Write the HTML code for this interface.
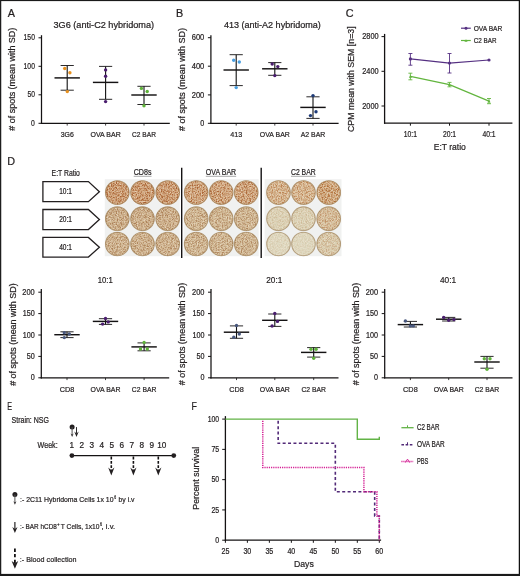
<!DOCTYPE html>
<html><head><meta charset="utf-8"><style>
html,body{margin:0;padding:0;background:#fff;width:520px;height:576px;overflow:hidden}
body{position:relative;font-family:"Liberation Sans", sans-serif}
</style></head><body>
<svg width="520" height="576" viewBox="0 0 520 576" style="position:absolute;left:0;top:0;will-change:transform" font-family='"Liberation Sans", sans-serif'>
<rect x="0" y="0" width="520" height="576" fill="#fff"/>
<text x="7.8" y="16.6" font-size="10.8" text-anchor="start" fill="#231f20" stroke="#231f20" stroke-width="0.22" >A</text>
<text x="176" y="17" font-size="10.8" text-anchor="start" fill="#231f20" stroke="#231f20" stroke-width="0.22" >B</text>
<text x="345.8" y="16.7" font-size="10.8" text-anchor="start" fill="#231f20" stroke="#231f20" stroke-width="0.22" >C</text>
<text x="7.2" y="165.1" font-size="10.8" text-anchor="start" fill="#231f20" stroke="#231f20" stroke-width="0.22" >D</text>
<text x="7.3" y="409.8" font-size="10.8" text-anchor="start" fill="#231f20" stroke="#231f20" stroke-width="0.22" textLength="4.8" lengthAdjust="spacingAndGlyphs" >E</text>
<text x="191.6" y="410.1" font-size="10.8" text-anchor="start" fill="#231f20" stroke="#231f20" stroke-width="0.22" textLength="5.4" lengthAdjust="spacingAndGlyphs" >F</text>
<text x="53.5" y="28.2" font-size="9.07" text-anchor="start" fill="#231f20" stroke="#231f20" stroke-width="0.22" textLength="100.6" lengthAdjust="spacingAndGlyphs" >3G6 (anti-C2 hybridoma)</text>
<line x1="41.5" y1="35.2" x2="41.5" y2="124.0" stroke="#141213" stroke-width="1.25" />
<line x1="40.9" y1="123.4" x2="169.8" y2="123.4" stroke="#141213" stroke-width="1.25" />
<line x1="38.5" y1="37.8" x2="41.5" y2="37.8" stroke="#141213" stroke-width="1.0" />
<text x="34.9" y="40.4" font-size="8.21" text-anchor="end" fill="#231f20" stroke="#231f20" stroke-width="0.22" textLength="11.3" lengthAdjust="spacingAndGlyphs" >150</text>
<line x1="38.5" y1="66.3" x2="41.5" y2="66.3" stroke="#141213" stroke-width="1.0" />
<text x="34.9" y="68.89999999999999" font-size="8.21" text-anchor="end" fill="#231f20" stroke="#231f20" stroke-width="0.22" textLength="11.3" lengthAdjust="spacingAndGlyphs" >100</text>
<line x1="38.5" y1="94.8" x2="41.5" y2="94.8" stroke="#141213" stroke-width="1.0" />
<text x="34.9" y="97.39999999999999" font-size="8.21" text-anchor="end" fill="#231f20" stroke="#231f20" stroke-width="0.22" textLength="7.5" lengthAdjust="spacingAndGlyphs" >50</text>
<line x1="38.5" y1="123.3" x2="41.5" y2="123.3" stroke="#141213" stroke-width="1.0" />
<text x="34.9" y="125.89999999999999" font-size="8.21" text-anchor="end" fill="#231f20" stroke="#231f20" stroke-width="0.22" textLength="3.8" lengthAdjust="spacingAndGlyphs" >0</text>
<line x1="67.2" y1="123.4" x2="67.2" y2="125.60000000000001" stroke="#141213" stroke-width="0.8" />
<text x="67.2" y="137.1" font-size="8.1" text-anchor="middle" fill="#231f20" stroke="#231f20" stroke-width="0.22" textLength="13.1" lengthAdjust="spacingAndGlyphs" >3G6</text>
<line x1="67.2" y1="65.5" x2="67.2" y2="90.2" stroke="#111" stroke-width="1.1" />
<line x1="54.5" y1="77.9" x2="79.9" y2="77.9" stroke="#141213" stroke-width="1.45" />
<line x1="60.6" y1="65.5" x2="73.8" y2="65.5" stroke="#141213" stroke-width="0.9" />
<line x1="60.6" y1="90.2" x2="73.8" y2="90.2" stroke="#141213" stroke-width="0.9" />
<circle cx="64.7" cy="68.5" r="1.7" fill="#e8911e"/>
<circle cx="69.9" cy="72.8" r="1.7" fill="#e8911e"/>
<circle cx="67.3" cy="91.6" r="1.7" fill="#e8911e"/>
<line x1="105.6" y1="123.4" x2="105.6" y2="125.60000000000001" stroke="#141213" stroke-width="0.8" />
<text x="105.6" y="137.1" font-size="8.1" text-anchor="middle" fill="#231f20" stroke="#231f20" stroke-width="0.22" textLength="30.3" lengthAdjust="spacingAndGlyphs" >OVA BAR</text>
<line x1="105.6" y1="66.4" x2="105.6" y2="99.3" stroke="#111" stroke-width="1.1" />
<line x1="92.89999999999999" y1="82.4" x2="118.3" y2="82.4" stroke="#141213" stroke-width="1.45" />
<line x1="99.0" y1="66.4" x2="112.19999999999999" y2="66.4" stroke="#141213" stroke-width="0.9" />
<line x1="99.0" y1="99.3" x2="112.19999999999999" y2="99.3" stroke="#141213" stroke-width="0.9" />
<circle cx="105.6" cy="69.9" r="1.7" fill="#4a1d6e"/>
<circle cx="105.6" cy="76.3" r="1.7" fill="#4a1d6e"/>
<circle cx="105.6" cy="101.6" r="1.7" fill="#4a1d6e"/>
<line x1="144.0" y1="123.4" x2="144.0" y2="125.60000000000001" stroke="#141213" stroke-width="0.8" />
<text x="144.0" y="137.1" font-size="8.1" text-anchor="middle" fill="#231f20" stroke="#231f20" stroke-width="0.22" textLength="23.9" lengthAdjust="spacingAndGlyphs" >C2 BAR</text>
<line x1="144.0" y1="86.3" x2="144.0" y2="104.5" stroke="#111" stroke-width="1.1" />
<line x1="131.3" y1="95.0" x2="156.7" y2="95.0" stroke="#141213" stroke-width="1.45" />
<line x1="137.4" y1="86.3" x2="150.6" y2="86.3" stroke="#141213" stroke-width="0.9" />
<line x1="137.4" y1="104.5" x2="150.6" y2="104.5" stroke="#141213" stroke-width="0.9" />
<circle cx="141.4" cy="88.4" r="1.7" fill="#5fb33a"/>
<circle cx="147.2" cy="91.5" r="1.7" fill="#5fb33a"/>
<circle cx="144" cy="105.7" r="1.7" fill="#5fb33a"/>
<text transform="translate(15.1,79.2) rotate(-90)" x="0" y="0" font-size="8.6" text-anchor="middle" fill="#231f20" stroke="#231f20" stroke-width="0.22" textLength="103" lengthAdjust="spacingAndGlyphs"># of spots (mean with SD)</text>
<text x="223.9" y="28.1" font-size="9.07" text-anchor="start" fill="#231f20" stroke="#231f20" stroke-width="0.22" textLength="96.9" lengthAdjust="spacingAndGlyphs" >413 (anti-A2 hybridoma)</text>
<line x1="210.9" y1="35.3" x2="210.9" y2="124.0" stroke="#141213" stroke-width="1.25" />
<line x1="210.3" y1="123.4" x2="338.6" y2="123.4" stroke="#141213" stroke-width="1.25" />
<line x1="207.9" y1="37.7" x2="210.9" y2="37.7" stroke="#141213" stroke-width="1.0" />
<text x="204.3" y="40.300000000000004" font-size="8.21" text-anchor="end" fill="#231f20" stroke="#231f20" stroke-width="0.22" textLength="12.6" lengthAdjust="spacingAndGlyphs" >600</text>
<line x1="207.9" y1="66.2" x2="210.9" y2="66.2" stroke="#141213" stroke-width="1.0" />
<text x="204.3" y="68.8" font-size="8.21" text-anchor="end" fill="#231f20" stroke="#231f20" stroke-width="0.22" textLength="12.6" lengthAdjust="spacingAndGlyphs" >400</text>
<line x1="207.9" y1="94.9" x2="210.9" y2="94.9" stroke="#141213" stroke-width="1.0" />
<text x="204.3" y="97.5" font-size="8.21" text-anchor="end" fill="#231f20" stroke="#231f20" stroke-width="0.22" textLength="12.6" lengthAdjust="spacingAndGlyphs" >200</text>
<line x1="207.9" y1="123.3" x2="210.9" y2="123.3" stroke="#141213" stroke-width="1.0" />
<text x="204.3" y="125.89999999999999" font-size="8.21" text-anchor="end" fill="#231f20" stroke="#231f20" stroke-width="0.22" textLength="4.0" lengthAdjust="spacingAndGlyphs" >0</text>
<line x1="236.2" y1="123.4" x2="236.2" y2="125.60000000000001" stroke="#141213" stroke-width="0.8" />
<text x="236.2" y="137.1" font-size="8.1" text-anchor="middle" fill="#231f20" stroke="#231f20" stroke-width="0.22" textLength="12" lengthAdjust="spacingAndGlyphs" >413</text>
<line x1="236.2" y1="54.7" x2="236.2" y2="85.6" stroke="#111" stroke-width="1.1" />
<line x1="223.5" y1="70.0" x2="248.89999999999998" y2="70.0" stroke="#141213" stroke-width="1.45" />
<line x1="229.6" y1="54.7" x2="242.79999999999998" y2="54.7" stroke="#141213" stroke-width="0.9" />
<line x1="229.6" y1="85.6" x2="242.79999999999998" y2="85.6" stroke="#141213" stroke-width="0.9" />
<circle cx="233.7" cy="60.3" r="1.7" fill="#4a9fe0"/>
<circle cx="239.3" cy="62" r="1.7" fill="#4a9fe0"/>
<circle cx="236.2" cy="87.6" r="1.7" fill="#4a9fe0"/>
<line x1="274.8" y1="123.4" x2="274.8" y2="125.60000000000001" stroke="#141213" stroke-width="0.8" />
<text x="274.8" y="137.1" font-size="8.1" text-anchor="middle" fill="#231f20" stroke="#231f20" stroke-width="0.22" textLength="30" lengthAdjust="spacingAndGlyphs" >OVA BAR</text>
<line x1="274.8" y1="62.6" x2="274.8" y2="75.3" stroke="#111" stroke-width="1.1" />
<line x1="262.1" y1="68.8" x2="287.5" y2="68.8" stroke="#141213" stroke-width="1.45" />
<line x1="268.2" y1="62.6" x2="281.40000000000003" y2="62.6" stroke="#141213" stroke-width="0.9" />
<line x1="268.2" y1="75.3" x2="281.40000000000003" y2="75.3" stroke="#141213" stroke-width="0.9" />
<circle cx="272.2" cy="64" r="1.7" fill="#4a1d6e"/>
<circle cx="277.8" cy="66.6" r="1.7" fill="#4a1d6e"/>
<circle cx="274.8" cy="75.6" r="1.7" fill="#4a1d6e"/>
<line x1="313.0" y1="123.4" x2="313.0" y2="125.60000000000001" stroke="#141213" stroke-width="0.8" />
<text x="313.0" y="137.1" font-size="8.1" text-anchor="middle" fill="#231f20" stroke="#231f20" stroke-width="0.22" textLength="24.6" lengthAdjust="spacingAndGlyphs" >A2 BAR</text>
<line x1="313.0" y1="96.8" x2="313.0" y2="118.4" stroke="#111" stroke-width="1.1" />
<line x1="300.3" y1="107.4" x2="325.7" y2="107.4" stroke="#141213" stroke-width="1.45" />
<line x1="306.4" y1="96.8" x2="319.6" y2="96.8" stroke="#141213" stroke-width="0.9" />
<line x1="306.4" y1="118.4" x2="319.6" y2="118.4" stroke="#141213" stroke-width="0.9" />
<circle cx="313" cy="95.6" r="1.7" fill="#1d3a78"/>
<circle cx="316" cy="111.8" r="1.7" fill="#1d3a78"/>
<circle cx="310.5" cy="115.6" r="1.7" fill="#1d3a78"/>
<text transform="translate(185.0,79.5) rotate(-90)" x="0" y="0" font-size="8.6" text-anchor="middle" fill="#231f20" stroke="#231f20" stroke-width="0.22" textLength="103" lengthAdjust="spacingAndGlyphs"># of spots (mean with SD)</text>
<line x1="384.6" y1="33.9" x2="384.6" y2="123.8" stroke="#141213" stroke-width="1.3" />
<line x1="384.0" y1="123.2" x2="512.4" y2="123.2" stroke="#141213" stroke-width="1.3" />
<line x1="381.5" y1="36.6" x2="384.6" y2="36.6" stroke="#141213" stroke-width="1.0" />
<text x="378.6" y="39.2" font-size="8.42" text-anchor="end" fill="#231f20" stroke="#231f20" stroke-width="0.22" textLength="16.4" lengthAdjust="spacingAndGlyphs" >2800</text>
<line x1="381.5" y1="71.3" x2="384.6" y2="71.3" stroke="#141213" stroke-width="1.0" />
<text x="378.6" y="73.89999999999999" font-size="8.42" text-anchor="end" fill="#231f20" stroke="#231f20" stroke-width="0.22" textLength="16.4" lengthAdjust="spacingAndGlyphs" >2400</text>
<line x1="381.5" y1="106.0" x2="384.6" y2="106.0" stroke="#141213" stroke-width="1.0" />
<text x="378.6" y="108.6" font-size="8.42" text-anchor="end" fill="#231f20" stroke="#231f20" stroke-width="0.22" textLength="16.4" lengthAdjust="spacingAndGlyphs" >2000</text>
<line x1="410.4" y1="123.2" x2="410.4" y2="125.7" stroke="#141213" stroke-width="1.0" />
<text x="410.4" y="136.9" font-size="8.21" text-anchor="middle" fill="#231f20" stroke="#231f20" stroke-width="0.22" textLength="13.2" lengthAdjust="spacingAndGlyphs" >10:1</text>
<line x1="449.5" y1="123.2" x2="449.5" y2="125.7" stroke="#141213" stroke-width="1.0" />
<text x="449.5" y="136.9" font-size="8.21" text-anchor="middle" fill="#231f20" stroke="#231f20" stroke-width="0.22" textLength="13.2" lengthAdjust="spacingAndGlyphs" >20:1</text>
<line x1="489.0" y1="123.2" x2="489.0" y2="125.7" stroke="#141213" stroke-width="1.0" />
<text x="489.0" y="136.9" font-size="8.21" text-anchor="middle" fill="#231f20" stroke="#231f20" stroke-width="0.22" textLength="13.2" lengthAdjust="spacingAndGlyphs" >40:1</text>
<text x="449.8" y="149.9" font-size="9.4" text-anchor="middle" fill="#231f20" stroke="#231f20" stroke-width="0.22" textLength="32.2" lengthAdjust="spacingAndGlyphs" >E:T ratio</text>
<text transform="translate(353.6,79.2) rotate(-90)" font-size="8.8" text-anchor="middle" fill="#231f20" stroke="#231f20" stroke-width="0.22" textLength="105.6" lengthAdjust="spacingAndGlyphs">CPM mean with SEM [n=3]</text>
<polyline points="410.4,58.9 449.5,63.1 489,60" fill="none" stroke="#553082" stroke-width="1.2"/>
<polyline points="410.4,76.4 449.5,84.7 489,101.1" fill="none" stroke="#62b53e" stroke-width="1.2"/>
<line x1="410.4" y1="53.5" x2="410.4" y2="65.2" stroke="#553082" stroke-width="0.9" />
<line x1="408.4" y1="53.5" x2="412.4" y2="53.5" stroke="#553082" stroke-width="0.9" />
<line x1="408.4" y1="65.2" x2="412.4" y2="65.2" stroke="#553082" stroke-width="0.9" />
<line x1="449.5" y1="53.5" x2="449.5" y2="73" stroke="#553082" stroke-width="0.9" />
<line x1="447.5" y1="53.5" x2="451.5" y2="53.5" stroke="#553082" stroke-width="0.9" />
<line x1="447.5" y1="73" x2="451.5" y2="73" stroke="#553082" stroke-width="0.9" />
<circle cx="410.4" cy="58.9" r="1.6" fill="#553082"/>
<circle cx="449.5" cy="63.1" r="1.6" fill="#553082"/>
<circle cx="489" cy="60" r="1.6" fill="#553082"/>
<line x1="410.4" y1="73.2" x2="410.4" y2="79.8" stroke="#62b53e" stroke-width="0.9" />
<line x1="408.4" y1="73.2" x2="412.4" y2="73.2" stroke="#62b53e" stroke-width="0.9" />
<line x1="408.4" y1="79.8" x2="412.4" y2="79.8" stroke="#62b53e" stroke-width="0.9" />
<line x1="449.5" y1="82.4" x2="449.5" y2="86.8" stroke="#62b53e" stroke-width="0.9" />
<line x1="447.5" y1="82.4" x2="451.5" y2="82.4" stroke="#62b53e" stroke-width="0.9" />
<line x1="447.5" y1="86.8" x2="451.5" y2="86.8" stroke="#62b53e" stroke-width="0.9" />
<line x1="489" y1="98.5" x2="489" y2="103.7" stroke="#62b53e" stroke-width="0.9" />
<line x1="487" y1="98.5" x2="491" y2="98.5" stroke="#62b53e" stroke-width="0.9" />
<line x1="487" y1="103.7" x2="491" y2="103.7" stroke="#62b53e" stroke-width="0.9" />
<path d="M408.79999999999995,77.7 L410.4,75.10000000000001 L412.0,77.7 Z" fill="#62b53e"/>
<path d="M447.9,86.0 L449.5,83.4 L451.1,86.0 Z" fill="#62b53e"/>
<path d="M487.4,102.39999999999999 L489,99.8 L490.6,102.39999999999999 Z" fill="#62b53e"/>
<line x1="461" y1="28.2" x2="470.8" y2="28.2" stroke="#553082" stroke-width="1.2" />
<circle cx="466" cy="28.2" r="1.5" fill="#553082"/>
<text x="473.7" y="30.7" font-size="7.56" text-anchor="start" fill="#231f20" stroke="#231f20" stroke-width="0.22" textLength="28.6" lengthAdjust="spacingAndGlyphs" >OVA BAR</text>
<line x1="461" y1="40.5" x2="470.8" y2="40.5" stroke="#62b53e" stroke-width="1.2" />
<path d="M464.4,41.7 L466,39.3 L467.6,41.7 Z" fill="#62b53e"/>
<text x="473.7" y="43.0" font-size="7.56" text-anchor="start" fill="#231f20" stroke="#231f20" stroke-width="0.22" textLength="22.8" lengthAdjust="spacingAndGlyphs" >C2 BAR</text>
<text x="51.6" y="175.7" font-size="8.75" text-anchor="start" fill="#231f20" stroke="#231f20" stroke-width="0.22" textLength="28.3" lengthAdjust="spacingAndGlyphs" >E:T Ratio</text>
<path d="M42.9,181.6 L88.4,181.6 L99.4,191.64999999999998 L88.4,201.7 L42.9,201.7 Z" fill="#fff" stroke="#231f20" stroke-width="1.3"/>
<text x="65.6" y="194.34999999999997" font-size="8.21" text-anchor="middle" fill="#231f20" stroke="#231f20" stroke-width="0.22" textLength="12.8" lengthAdjust="spacingAndGlyphs" >10:1</text>
<path d="M42.9,209.5 L88.4,209.5 L99.4,219.55 L88.4,229.6 L42.9,229.6 Z" fill="#fff" stroke="#231f20" stroke-width="1.3"/>
<text x="65.6" y="222.25" font-size="8.21" text-anchor="middle" fill="#231f20" stroke="#231f20" stroke-width="0.22" textLength="12.8" lengthAdjust="spacingAndGlyphs" >20:1</text>
<path d="M42.9,237.4 L88.4,237.4 L99.4,247.25 L88.4,257.1 L42.9,257.1 Z" fill="#fff" stroke="#231f20" stroke-width="1.3"/>
<text x="65.6" y="249.95" font-size="8.21" text-anchor="middle" fill="#231f20" stroke="#231f20" stroke-width="0.22" textLength="12.8" lengthAdjust="spacingAndGlyphs" >40:1</text>
<text x="142.6" y="175.4" font-size="8.64" text-anchor="middle" fill="#231f20" stroke="#231f20" stroke-width="0.22" textLength="17.8" lengthAdjust="spacingAndGlyphs" >CD8s</text>
<line x1="133.7" y1="176.3" x2="151.5" y2="176.3" stroke="#555" stroke-width="0.5" />
<text x="221" y="175.4" font-size="8.64" text-anchor="middle" fill="#231f20" stroke="#231f20" stroke-width="0.22" textLength="30.4" lengthAdjust="spacingAndGlyphs" >OVA BAR</text>
<line x1="205.8" y1="176.3" x2="236.2" y2="176.3" stroke="#555" stroke-width="0.5" />
<text x="303.3" y="175.4" font-size="8.64" text-anchor="middle" fill="#231f20" stroke="#231f20" stroke-width="0.22" textLength="24.6" lengthAdjust="spacingAndGlyphs" >C2 BAR</text>
<line x1="291.0" y1="176.3" x2="315.6" y2="176.3" stroke="#555" stroke-width="0.5" />
<line x1="181.7" y1="167.7" x2="181.7" y2="258" stroke="#141213" stroke-width="1.4" />
<line x1="261.2" y1="167.7" x2="261.2" y2="258" stroke="#141213" stroke-width="1.4" />
<defs>
<filter id="spk" x="-5%" y="-5%" width="110%" height="110%" color-interpolation-filters="sRGB">
<feTurbulence type="fractalNoise" baseFrequency="0.8" numOctaves="2" seed="4" result="n"/>
<feColorMatrix in="n" type="matrix" values="0 0 0 0 0  0 0 0 0 0  0 0 0 0 0  3.4 0 0 0 -1.35" result="a"/>
<feComposite in="SourceGraphic" in2="a" operator="in"/>
</filter>
<filter id="lt" x="-5%" y="-5%" width="110%" height="110%" color-interpolation-filters="sRGB">
<feTurbulence type="fractalNoise" baseFrequency="0.7" numOctaves="2" seed="11" result="n"/>
<feColorMatrix in="n" type="matrix" values="0 0 0 0 0  0 0 0 0 0  0 0 0 0 0  0 3.2 0 0 -1.45" result="a"/>
<feComposite in="SourceGraphic" in2="a" operator="in"/>
</filter>
</defs>
<rect x="104.8" y="179.2" width="75.00000000000001" height="77" fill="#f0f1f0"/>
<circle cx="117.3" cy="192.6" r="12.1" fill="#d4aa80"/>
<circle cx="117.3" cy="192.6" r="11.8" fill="#a45a2a" fill-opacity="0.9" filter="url(#spk)"/>
<circle cx="117.3" cy="192.6" r="11.8" fill="#f4ead8" fill-opacity="0.55" filter="url(#lt)"/>
<circle cx="117.3" cy="192.6" r="11.8" fill="none" stroke="#9a7c54" stroke-opacity="0.6" stroke-width="1.1"/>
<circle cx="142.5" cy="192.6" r="12.1" fill="#d4aa80"/>
<circle cx="142.5" cy="192.6" r="11.8" fill="#a45a2a" fill-opacity="0.9" filter="url(#spk)"/>
<circle cx="142.5" cy="192.6" r="11.8" fill="#f4ead8" fill-opacity="0.55" filter="url(#lt)"/>
<circle cx="142.5" cy="192.6" r="11.8" fill="none" stroke="#9a7c54" stroke-opacity="0.6" stroke-width="1.1"/>
<circle cx="167.7" cy="192.6" r="12.1" fill="#d4aa80"/>
<circle cx="167.7" cy="192.6" r="11.8" fill="#a45a2a" fill-opacity="0.9" filter="url(#spk)"/>
<circle cx="167.7" cy="192.6" r="11.8" fill="#f4ead8" fill-opacity="0.55" filter="url(#lt)"/>
<circle cx="167.7" cy="192.6" r="11.8" fill="none" stroke="#9a7c54" stroke-opacity="0.6" stroke-width="1.1"/>
<circle cx="117.3" cy="218.7" r="12.1" fill="#d3b994"/>
<circle cx="117.3" cy="218.7" r="11.8" fill="#9c6a40" fill-opacity="0.72" filter="url(#spk)"/>
<circle cx="117.3" cy="218.7" r="11.8" fill="#f4ead8" fill-opacity="0.55" filter="url(#lt)"/>
<circle cx="117.3" cy="218.7" r="11.8" fill="none" stroke="#9a7c54" stroke-opacity="0.6" stroke-width="1.1"/>
<circle cx="142.5" cy="218.7" r="12.1" fill="#d3b994"/>
<circle cx="142.5" cy="218.7" r="11.8" fill="#9c6a40" fill-opacity="0.72" filter="url(#spk)"/>
<circle cx="142.5" cy="218.7" r="11.8" fill="#f4ead8" fill-opacity="0.55" filter="url(#lt)"/>
<circle cx="142.5" cy="218.7" r="11.8" fill="none" stroke="#9a7c54" stroke-opacity="0.6" stroke-width="1.1"/>
<circle cx="167.7" cy="218.7" r="12.1" fill="#d3b994"/>
<circle cx="167.7" cy="218.7" r="11.8" fill="#9c6a40" fill-opacity="0.72" filter="url(#spk)"/>
<circle cx="167.7" cy="218.7" r="11.8" fill="#f4ead8" fill-opacity="0.55" filter="url(#lt)"/>
<circle cx="167.7" cy="218.7" r="11.8" fill="none" stroke="#9a7c54" stroke-opacity="0.6" stroke-width="1.1"/>
<circle cx="117.3" cy="244.0" r="12.1" fill="#d5bc98"/>
<circle cx="117.3" cy="244.0" r="11.8" fill="#9c6a40" fill-opacity="0.68" filter="url(#spk)"/>
<circle cx="117.3" cy="244.0" r="11.8" fill="#f4ead8" fill-opacity="0.55" filter="url(#lt)"/>
<circle cx="117.3" cy="244.0" r="11.8" fill="none" stroke="#9a7c54" stroke-opacity="0.6" stroke-width="1.1"/>
<circle cx="142.5" cy="244.0" r="12.1" fill="#d5bc98"/>
<circle cx="142.5" cy="244.0" r="11.8" fill="#9c6a40" fill-opacity="0.68" filter="url(#spk)"/>
<circle cx="142.5" cy="244.0" r="11.8" fill="#f4ead8" fill-opacity="0.55" filter="url(#lt)"/>
<circle cx="142.5" cy="244.0" r="11.8" fill="none" stroke="#9a7c54" stroke-opacity="0.6" stroke-width="1.1"/>
<circle cx="167.7" cy="244.0" r="12.1" fill="#d5bc98"/>
<circle cx="167.7" cy="244.0" r="11.8" fill="#9c6a40" fill-opacity="0.68" filter="url(#spk)"/>
<circle cx="167.7" cy="244.0" r="11.8" fill="#f4ead8" fill-opacity="0.55" filter="url(#lt)"/>
<circle cx="167.7" cy="244.0" r="11.8" fill="none" stroke="#9a7c54" stroke-opacity="0.6" stroke-width="1.1"/>
<rect x="183.7" y="179.2" width="75.0" height="77" fill="#f0f1f0"/>
<circle cx="196.2" cy="192.6" r="12.1" fill="#d7b28a"/>
<circle cx="196.2" cy="192.6" r="11.8" fill="#a45a2a" fill-opacity="0.85" filter="url(#spk)"/>
<circle cx="196.2" cy="192.6" r="11.8" fill="#f4ead8" fill-opacity="0.55" filter="url(#lt)"/>
<circle cx="196.2" cy="192.6" r="11.8" fill="none" stroke="#9a7c54" stroke-opacity="0.6" stroke-width="1.1"/>
<circle cx="221.2" cy="192.6" r="12.1" fill="#d7b28a"/>
<circle cx="221.2" cy="192.6" r="11.8" fill="#a45a2a" fill-opacity="0.85" filter="url(#spk)"/>
<circle cx="221.2" cy="192.6" r="11.8" fill="#f4ead8" fill-opacity="0.55" filter="url(#lt)"/>
<circle cx="221.2" cy="192.6" r="11.8" fill="none" stroke="#9a7c54" stroke-opacity="0.6" stroke-width="1.1"/>
<circle cx="246.2" cy="192.6" r="12.1" fill="#d7b28a"/>
<circle cx="246.2" cy="192.6" r="11.8" fill="#a45a2a" fill-opacity="0.85" filter="url(#spk)"/>
<circle cx="246.2" cy="192.6" r="11.8" fill="#f4ead8" fill-opacity="0.55" filter="url(#lt)"/>
<circle cx="246.2" cy="192.6" r="11.8" fill="none" stroke="#9a7c54" stroke-opacity="0.6" stroke-width="1.1"/>
<circle cx="196.2" cy="218.7" r="12.1" fill="#d6c09c"/>
<circle cx="196.2" cy="218.7" r="11.8" fill="#9c6a40" fill-opacity="0.65" filter="url(#spk)"/>
<circle cx="196.2" cy="218.7" r="11.8" fill="#f4ead8" fill-opacity="0.55" filter="url(#lt)"/>
<circle cx="196.2" cy="218.7" r="11.8" fill="none" stroke="#9a7c54" stroke-opacity="0.6" stroke-width="1.1"/>
<circle cx="221.2" cy="218.7" r="12.1" fill="#d6c09c"/>
<circle cx="221.2" cy="218.7" r="11.8" fill="#9c6a40" fill-opacity="0.65" filter="url(#spk)"/>
<circle cx="221.2" cy="218.7" r="11.8" fill="#f4ead8" fill-opacity="0.55" filter="url(#lt)"/>
<circle cx="221.2" cy="218.7" r="11.8" fill="none" stroke="#9a7c54" stroke-opacity="0.6" stroke-width="1.1"/>
<circle cx="246.2" cy="218.7" r="12.1" fill="#d6c09c"/>
<circle cx="246.2" cy="218.7" r="11.8" fill="#9c6a40" fill-opacity="0.65" filter="url(#spk)"/>
<circle cx="246.2" cy="218.7" r="11.8" fill="#f4ead8" fill-opacity="0.55" filter="url(#lt)"/>
<circle cx="246.2" cy="218.7" r="11.8" fill="none" stroke="#9a7c54" stroke-opacity="0.6" stroke-width="1.1"/>
<circle cx="196.2" cy="244.0" r="12.1" fill="#d6c09c"/>
<circle cx="196.2" cy="244.0" r="11.8" fill="#9c6a40" fill-opacity="0.65" filter="url(#spk)"/>
<circle cx="196.2" cy="244.0" r="11.8" fill="#f4ead8" fill-opacity="0.55" filter="url(#lt)"/>
<circle cx="196.2" cy="244.0" r="11.8" fill="none" stroke="#9a7c54" stroke-opacity="0.6" stroke-width="1.1"/>
<circle cx="221.2" cy="244.0" r="12.1" fill="#d6c09c"/>
<circle cx="221.2" cy="244.0" r="11.8" fill="#9c6a40" fill-opacity="0.65" filter="url(#spk)"/>
<circle cx="221.2" cy="244.0" r="11.8" fill="#f4ead8" fill-opacity="0.55" filter="url(#lt)"/>
<circle cx="221.2" cy="244.0" r="11.8" fill="none" stroke="#9a7c54" stroke-opacity="0.6" stroke-width="1.1"/>
<circle cx="246.2" cy="244.0" r="12.1" fill="#d6c09c"/>
<circle cx="246.2" cy="244.0" r="11.8" fill="#9c6a40" fill-opacity="0.65" filter="url(#spk)"/>
<circle cx="246.2" cy="244.0" r="11.8" fill="#f4ead8" fill-opacity="0.55" filter="url(#lt)"/>
<circle cx="246.2" cy="244.0" r="11.8" fill="none" stroke="#9a7c54" stroke-opacity="0.6" stroke-width="1.1"/>
<rect x="264.6" y="179.2" width="76.89999999999998" height="77" fill="#f0f1f0"/>
<circle cx="278.5" cy="192.6" r="12.1" fill="#dac09c"/>
<circle cx="278.5" cy="192.6" r="11.8" fill="#b06a34" fill-opacity="0.7" filter="url(#spk)"/>
<circle cx="278.5" cy="192.6" r="11.8" fill="#f4ead8" fill-opacity="0.55" filter="url(#lt)"/>
<circle cx="278.5" cy="192.6" r="11.8" fill="none" stroke="#9a7c54" stroke-opacity="0.6" stroke-width="1.1"/>
<circle cx="303.5" cy="192.6" r="12.1" fill="#dac09c"/>
<circle cx="303.5" cy="192.6" r="11.8" fill="#b06a34" fill-opacity="0.7" filter="url(#spk)"/>
<circle cx="303.5" cy="192.6" r="11.8" fill="#f4ead8" fill-opacity="0.55" filter="url(#lt)"/>
<circle cx="303.5" cy="192.6" r="11.8" fill="none" stroke="#9a7c54" stroke-opacity="0.6" stroke-width="1.1"/>
<circle cx="328.7" cy="192.6" r="12.1" fill="#d6b68e"/>
<circle cx="328.7" cy="192.6" r="11.8" fill="#aa6028" fill-opacity="0.85" filter="url(#spk)"/>
<circle cx="328.7" cy="192.6" r="11.8" fill="#f4ead8" fill-opacity="0.55" filter="url(#lt)"/>
<circle cx="328.7" cy="192.6" r="11.8" fill="none" stroke="#9a7c54" stroke-opacity="0.6" stroke-width="1.1"/>
<circle cx="278.5" cy="218.7" r="12.1" fill="#dcd5ba"/>
<circle cx="278.5" cy="218.7" r="11.8" fill="#b88a58" fill-opacity="0.3" filter="url(#spk)"/>
<circle cx="278.5" cy="218.7" r="11.8" fill="#f4ead8" fill-opacity="0.55" filter="url(#lt)"/>
<circle cx="278.5" cy="218.7" r="11.8" fill="none" stroke="#9a7c54" stroke-opacity="0.6" stroke-width="1.1"/>
<circle cx="303.5" cy="218.7" r="12.1" fill="#dcd5ba"/>
<circle cx="303.5" cy="218.7" r="11.8" fill="#b88a58" fill-opacity="0.35" filter="url(#spk)"/>
<circle cx="303.5" cy="218.7" r="11.8" fill="#f4ead8" fill-opacity="0.55" filter="url(#lt)"/>
<circle cx="303.5" cy="218.7" r="11.8" fill="none" stroke="#9a7c54" stroke-opacity="0.6" stroke-width="1.1"/>
<circle cx="328.7" cy="218.7" r="12.1" fill="#d8c6a4"/>
<circle cx="328.7" cy="218.7" r="11.8" fill="#b07040" fill-opacity="0.6" filter="url(#spk)"/>
<circle cx="328.7" cy="218.7" r="11.8" fill="#f4ead8" fill-opacity="0.55" filter="url(#lt)"/>
<circle cx="328.7" cy="218.7" r="11.8" fill="none" stroke="#9a7c54" stroke-opacity="0.6" stroke-width="1.1"/>
<circle cx="278.5" cy="244.0" r="12.1" fill="#dfdac2"/>
<circle cx="278.5" cy="244.0" r="11.8" fill="#b88a58" fill-opacity="0.2" filter="url(#spk)"/>
<circle cx="278.5" cy="244.0" r="11.8" fill="#f4ead8" fill-opacity="0.55" filter="url(#lt)"/>
<circle cx="278.5" cy="244.0" r="11.8" fill="none" stroke="#9a7c54" stroke-opacity="0.6" stroke-width="1.1"/>
<circle cx="303.5" cy="244.0" r="12.1" fill="#dfdac2"/>
<circle cx="303.5" cy="244.0" r="11.8" fill="#b88a58" fill-opacity="0.2" filter="url(#spk)"/>
<circle cx="303.5" cy="244.0" r="11.8" fill="#f4ead8" fill-opacity="0.55" filter="url(#lt)"/>
<circle cx="303.5" cy="244.0" r="11.8" fill="none" stroke="#9a7c54" stroke-opacity="0.6" stroke-width="1.1"/>
<circle cx="328.7" cy="244.0" r="12.1" fill="#dad0b2"/>
<circle cx="328.7" cy="244.0" r="11.8" fill="#b07040" fill-opacity="0.42" filter="url(#spk)"/>
<circle cx="328.7" cy="244.0" r="11.8" fill="#f4ead8" fill-opacity="0.55" filter="url(#lt)"/>
<circle cx="328.7" cy="244.0" r="11.8" fill="none" stroke="#9a7c54" stroke-opacity="0.6" stroke-width="1.1"/>
<line x1="41.3" y1="289.0" x2="41.3" y2="378.5" stroke="#141213" stroke-width="1.25" />
<line x1="40.699999999999996" y1="377.9" x2="169.2" y2="377.9" stroke="#141213" stroke-width="1.25" />
<line x1="38.3" y1="292.2" x2="41.3" y2="292.2" stroke="#141213" stroke-width="1.0" />
<text x="34.699999999999996" y="294.8" font-size="8.21" text-anchor="end" fill="#231f20" stroke="#231f20" stroke-width="0.22" textLength="12.4" lengthAdjust="spacingAndGlyphs" >200</text>
<line x1="38.3" y1="313.6" x2="41.3" y2="313.6" stroke="#141213" stroke-width="1.0" />
<text x="34.699999999999996" y="316.20000000000005" font-size="8.21" text-anchor="end" fill="#231f20" stroke="#231f20" stroke-width="0.22" textLength="12.0" lengthAdjust="spacingAndGlyphs" >150</text>
<line x1="38.3" y1="335.0" x2="41.3" y2="335.0" stroke="#141213" stroke-width="1.0" />
<text x="34.699999999999996" y="337.6" font-size="8.21" text-anchor="end" fill="#231f20" stroke="#231f20" stroke-width="0.22" textLength="12.0" lengthAdjust="spacingAndGlyphs" >100</text>
<line x1="38.3" y1="356.4" x2="41.3" y2="356.4" stroke="#141213" stroke-width="1.0" />
<text x="34.699999999999996" y="359.0" font-size="8.21" text-anchor="end" fill="#231f20" stroke="#231f20" stroke-width="0.22" textLength="8.0" lengthAdjust="spacingAndGlyphs" >50</text>
<line x1="38.3" y1="377.8" x2="41.3" y2="377.8" stroke="#141213" stroke-width="1.0" />
<text x="34.699999999999996" y="380.40000000000003" font-size="8.21" text-anchor="end" fill="#231f20" stroke="#231f20" stroke-width="0.22" textLength="4.0" lengthAdjust="spacingAndGlyphs" >0</text>
<line x1="67.0" y1="377.9" x2="67.0" y2="380.09999999999997" stroke="#141213" stroke-width="0.8" />
<text x="67.0" y="391.5" font-size="8.1" text-anchor="middle" fill="#231f20" stroke="#231f20" stroke-width="0.22" textLength="14.6" lengthAdjust="spacingAndGlyphs" >CD8</text>
<line x1="67.0" y1="331.8" x2="67.0" y2="337.6" stroke="#111" stroke-width="1.1" />
<line x1="54.3" y1="334.7" x2="79.7" y2="334.7" stroke="#141213" stroke-width="1.45" />
<line x1="60.4" y1="331.8" x2="73.6" y2="331.8" stroke="#141213" stroke-width="0.9" />
<line x1="60.4" y1="337.6" x2="73.6" y2="337.6" stroke="#141213" stroke-width="0.9" />
<circle cx="64.3" cy="332.7" r="1.7" fill="#48577d"/>
<circle cx="69.3" cy="334" r="1.7" fill="#48577d"/>
<circle cx="64.3" cy="337.6" r="1.7" fill="#48577d"/>
<line x1="105.5" y1="377.9" x2="105.5" y2="380.09999999999997" stroke="#141213" stroke-width="0.8" />
<text x="105.5" y="391.5" font-size="8.1" text-anchor="middle" fill="#231f20" stroke="#231f20" stroke-width="0.22" textLength="30" lengthAdjust="spacingAndGlyphs" >OVA BAR</text>
<line x1="105.5" y1="318.7" x2="105.5" y2="324.4" stroke="#111" stroke-width="1.1" />
<line x1="92.8" y1="321.4" x2="118.2" y2="321.4" stroke="#141213" stroke-width="1.45" />
<line x1="98.9" y1="318.7" x2="112.1" y2="318.7" stroke="#141213" stroke-width="0.9" />
<line x1="98.9" y1="324.4" x2="112.1" y2="324.4" stroke="#141213" stroke-width="0.9" />
<circle cx="105.5" cy="318.5" r="1.7" fill="#4a1d6e"/>
<circle cx="108.2" cy="321.9" r="1.7" fill="#4a1d6e"/>
<circle cx="102.6" cy="324.1" r="1.7" fill="#4a1d6e"/>
<line x1="144.1" y1="377.9" x2="144.1" y2="380.09999999999997" stroke="#141213" stroke-width="0.8" />
<text x="144.1" y="391.5" font-size="8.1" text-anchor="middle" fill="#231f20" stroke="#231f20" stroke-width="0.22" textLength="24.6" lengthAdjust="spacingAndGlyphs" >C2 BAR</text>
<line x1="144.1" y1="342.9" x2="144.1" y2="350.8" stroke="#111" stroke-width="1.1" />
<line x1="131.4" y1="346.9" x2="156.79999999999998" y2="346.9" stroke="#141213" stroke-width="1.45" />
<line x1="137.5" y1="342.9" x2="150.7" y2="342.9" stroke="#141213" stroke-width="0.9" />
<line x1="137.5" y1="350.8" x2="150.7" y2="350.8" stroke="#141213" stroke-width="0.9" />
<circle cx="144.1" cy="342.4" r="1.7" fill="#5fb33a"/>
<circle cx="140.5" cy="349" r="1.7" fill="#5fb33a"/>
<circle cx="147.3" cy="349" r="1.7" fill="#5fb33a"/>
<text transform="translate(15.6,334.6) rotate(-90)" x="0" y="0" font-size="8.6" text-anchor="middle" fill="#231f20" stroke="#231f20" stroke-width="0.22" textLength="102.5" lengthAdjust="spacingAndGlyphs"># of spots (mean with SD)</text>
<text x="105.3" y="283" font-size="9.94" text-anchor="middle" fill="#231f20" stroke="#231f20" stroke-width="0.22" textLength="15.0" lengthAdjust="spacingAndGlyphs" >10:1</text>
<line x1="211.0" y1="289.0" x2="211.0" y2="378.5" stroke="#141213" stroke-width="1.25" />
<line x1="210.4" y1="377.9" x2="338.5" y2="377.9" stroke="#141213" stroke-width="1.25" />
<line x1="208.0" y1="292.2" x2="211.0" y2="292.2" stroke="#141213" stroke-width="1.0" />
<text x="204.4" y="294.8" font-size="8.21" text-anchor="end" fill="#231f20" stroke="#231f20" stroke-width="0.22" textLength="12.4" lengthAdjust="spacingAndGlyphs" >200</text>
<line x1="208.0" y1="313.6" x2="211.0" y2="313.6" stroke="#141213" stroke-width="1.0" />
<text x="204.4" y="316.20000000000005" font-size="8.21" text-anchor="end" fill="#231f20" stroke="#231f20" stroke-width="0.22" textLength="12.0" lengthAdjust="spacingAndGlyphs" >150</text>
<line x1="208.0" y1="335.0" x2="211.0" y2="335.0" stroke="#141213" stroke-width="1.0" />
<text x="204.4" y="337.6" font-size="8.21" text-anchor="end" fill="#231f20" stroke="#231f20" stroke-width="0.22" textLength="12.0" lengthAdjust="spacingAndGlyphs" >100</text>
<line x1="208.0" y1="356.4" x2="211.0" y2="356.4" stroke="#141213" stroke-width="1.0" />
<text x="204.4" y="359.0" font-size="8.21" text-anchor="end" fill="#231f20" stroke="#231f20" stroke-width="0.22" textLength="8.0" lengthAdjust="spacingAndGlyphs" >50</text>
<line x1="208.0" y1="377.8" x2="211.0" y2="377.8" stroke="#141213" stroke-width="1.0" />
<text x="204.4" y="380.40000000000003" font-size="8.21" text-anchor="end" fill="#231f20" stroke="#231f20" stroke-width="0.22" textLength="4.0" lengthAdjust="spacingAndGlyphs" >0</text>
<line x1="236.5" y1="377.9" x2="236.5" y2="380.09999999999997" stroke="#141213" stroke-width="0.8" />
<text x="236.5" y="391.5" font-size="8.1" text-anchor="middle" fill="#231f20" stroke="#231f20" stroke-width="0.22" textLength="14.6" lengthAdjust="spacingAndGlyphs" >CD8</text>
<line x1="236.5" y1="325.9" x2="236.5" y2="338.3" stroke="#111" stroke-width="1.1" />
<line x1="223.8" y1="332.2" x2="249.2" y2="332.2" stroke="#141213" stroke-width="1.45" />
<line x1="229.9" y1="325.9" x2="243.1" y2="325.9" stroke="#141213" stroke-width="0.9" />
<line x1="229.9" y1="338.3" x2="243.1" y2="338.3" stroke="#141213" stroke-width="0.9" />
<circle cx="236.5" cy="325.5" r="1.7" fill="#48577d"/>
<circle cx="239.3" cy="334" r="1.7" fill="#48577d"/>
<circle cx="233.8" cy="337.2" r="1.7" fill="#48577d"/>
<line x1="274.8" y1="377.9" x2="274.8" y2="380.09999999999997" stroke="#141213" stroke-width="0.8" />
<text x="274.8" y="391.5" font-size="8.1" text-anchor="middle" fill="#231f20" stroke="#231f20" stroke-width="0.22" textLength="30" lengthAdjust="spacingAndGlyphs" >OVA BAR</text>
<line x1="274.8" y1="314.0" x2="274.8" y2="326.4" stroke="#111" stroke-width="1.1" />
<line x1="262.1" y1="320.3" x2="287.5" y2="320.3" stroke="#141213" stroke-width="1.45" />
<line x1="268.2" y1="314.0" x2="281.40000000000003" y2="314.0" stroke="#141213" stroke-width="0.9" />
<line x1="268.2" y1="326.4" x2="281.40000000000003" y2="326.4" stroke="#141213" stroke-width="0.9" />
<circle cx="274.8" cy="313.5" r="1.7" fill="#4a1d6e"/>
<circle cx="277.5" cy="321.4" r="1.7" fill="#4a1d6e"/>
<circle cx="272.1" cy="326" r="1.7" fill="#4a1d6e"/>
<line x1="313.7" y1="377.9" x2="313.7" y2="380.09999999999997" stroke="#141213" stroke-width="0.8" />
<text x="313.7" y="391.5" font-size="8.1" text-anchor="middle" fill="#231f20" stroke="#231f20" stroke-width="0.22" textLength="24.6" lengthAdjust="spacingAndGlyphs" >C2 BAR</text>
<line x1="313.7" y1="347.6" x2="313.7" y2="357.1" stroke="#111" stroke-width="1.1" />
<line x1="301.0" y1="352.4" x2="326.4" y2="352.4" stroke="#141213" stroke-width="1.45" />
<line x1="307.09999999999997" y1="347.6" x2="320.3" y2="347.6" stroke="#141213" stroke-width="0.9" />
<line x1="307.09999999999997" y1="357.1" x2="320.3" y2="357.1" stroke="#141213" stroke-width="0.9" />
<circle cx="311" cy="349.2" r="1.7" fill="#5fb33a"/>
<circle cx="316.1" cy="349.2" r="1.7" fill="#5fb33a"/>
<circle cx="313.7" cy="358.2" r="1.7" fill="#5fb33a"/>
<text transform="translate(185.0,334.0) rotate(-90)" x="0" y="0" font-size="8.6" text-anchor="middle" fill="#231f20" stroke="#231f20" stroke-width="0.22" textLength="102.5" lengthAdjust="spacingAndGlyphs"># of spots (mean with SD)</text>
<text x="274.3" y="283" font-size="9.94" text-anchor="middle" fill="#231f20" stroke="#231f20" stroke-width="0.22" textLength="16" lengthAdjust="spacingAndGlyphs" >20:1</text>
<line x1="384.7" y1="289.0" x2="384.7" y2="378.5" stroke="#141213" stroke-width="1.25" />
<line x1="384.09999999999997" y1="377.9" x2="512.5" y2="377.9" stroke="#141213" stroke-width="1.25" />
<line x1="381.7" y1="292.2" x2="384.7" y2="292.2" stroke="#141213" stroke-width="1.0" />
<text x="378.09999999999997" y="294.8" font-size="8.21" text-anchor="end" fill="#231f20" stroke="#231f20" stroke-width="0.22" textLength="12.4" lengthAdjust="spacingAndGlyphs" >200</text>
<line x1="381.7" y1="313.6" x2="384.7" y2="313.6" stroke="#141213" stroke-width="1.0" />
<text x="378.09999999999997" y="316.20000000000005" font-size="8.21" text-anchor="end" fill="#231f20" stroke="#231f20" stroke-width="0.22" textLength="12.0" lengthAdjust="spacingAndGlyphs" >150</text>
<line x1="381.7" y1="335.0" x2="384.7" y2="335.0" stroke="#141213" stroke-width="1.0" />
<text x="378.09999999999997" y="337.6" font-size="8.21" text-anchor="end" fill="#231f20" stroke="#231f20" stroke-width="0.22" textLength="12.0" lengthAdjust="spacingAndGlyphs" >100</text>
<line x1="381.7" y1="356.4" x2="384.7" y2="356.4" stroke="#141213" stroke-width="1.0" />
<text x="378.09999999999997" y="359.0" font-size="8.21" text-anchor="end" fill="#231f20" stroke="#231f20" stroke-width="0.22" textLength="8.0" lengthAdjust="spacingAndGlyphs" >50</text>
<line x1="381.7" y1="377.8" x2="384.7" y2="377.8" stroke="#141213" stroke-width="1.0" />
<text x="378.09999999999997" y="380.40000000000003" font-size="8.21" text-anchor="end" fill="#231f20" stroke="#231f20" stroke-width="0.22" textLength="4.0" lengthAdjust="spacingAndGlyphs" >0</text>
<line x1="410.4" y1="377.9" x2="410.4" y2="380.09999999999997" stroke="#141213" stroke-width="0.8" />
<text x="410.4" y="391.5" font-size="8.1" text-anchor="middle" fill="#231f20" stroke="#231f20" stroke-width="0.22" textLength="14.6" lengthAdjust="spacingAndGlyphs" >CD8</text>
<line x1="410.4" y1="321.4" x2="410.4" y2="327.0" stroke="#111" stroke-width="1.1" />
<line x1="397.7" y1="324.6" x2="423.09999999999997" y2="324.6" stroke="#141213" stroke-width="1.45" />
<line x1="403.79999999999995" y1="321.4" x2="417.0" y2="321.4" stroke="#141213" stroke-width="0.9" />
<line x1="403.79999999999995" y1="327.0" x2="417.0" y2="327.0" stroke="#141213" stroke-width="0.9" />
<circle cx="405.4" cy="321" r="1.7" fill="#48577d"/>
<circle cx="410.4" cy="325.9" r="1.7" fill="#48577d"/>
<circle cx="413.3" cy="325.9" r="1.7" fill="#48577d"/>
<line x1="448.7" y1="377.9" x2="448.7" y2="380.09999999999997" stroke="#141213" stroke-width="0.8" />
<text x="448.7" y="391.5" font-size="8.1" text-anchor="middle" fill="#231f20" stroke="#231f20" stroke-width="0.22" textLength="30" lengthAdjust="spacingAndGlyphs" >OVA BAR</text>
<line x1="448.7" y1="317.4" x2="448.7" y2="321.0" stroke="#111" stroke-width="1.1" />
<line x1="436.0" y1="319.2" x2="461.4" y2="319.2" stroke="#141213" stroke-width="1.45" />
<line x1="442.09999999999997" y1="317.4" x2="455.3" y2="317.4" stroke="#141213" stroke-width="0.9" />
<line x1="442.09999999999997" y1="321.0" x2="455.3" y2="321.0" stroke="#141213" stroke-width="0.9" />
<circle cx="443.7" cy="317.4" r="1.7" fill="#4a1d6e"/>
<circle cx="448.7" cy="320.3" r="1.7" fill="#4a1d6e"/>
<circle cx="453.9" cy="319.6" r="1.7" fill="#4a1d6e"/>
<line x1="487.0" y1="377.9" x2="487.0" y2="380.09999999999997" stroke="#141213" stroke-width="0.8" />
<text x="487.0" y="391.5" font-size="8.1" text-anchor="middle" fill="#231f20" stroke="#231f20" stroke-width="0.22" textLength="24.6" lengthAdjust="spacingAndGlyphs" >C2 BAR</text>
<line x1="487.0" y1="356.4" x2="487.0" y2="368.2" stroke="#111" stroke-width="1.1" />
<line x1="474.3" y1="362.0" x2="499.7" y2="362.0" stroke="#141213" stroke-width="1.45" />
<line x1="480.4" y1="356.4" x2="493.6" y2="356.4" stroke="#141213" stroke-width="0.9" />
<line x1="480.4" y1="368.2" x2="493.6" y2="368.2" stroke="#141213" stroke-width="0.9" />
<circle cx="484.3" cy="358.7" r="1.7" fill="#5fb33a"/>
<circle cx="490" cy="358.7" r="1.7" fill="#5fb33a"/>
<circle cx="487" cy="369.3" r="1.7" fill="#5fb33a"/>
<text transform="translate(359.3,334.0) rotate(-90)" x="0" y="0" font-size="8.6" text-anchor="middle" fill="#231f20" stroke="#231f20" stroke-width="0.22" textLength="102.5" lengthAdjust="spacingAndGlyphs"># of spots (mean with SD)</text>
<text x="448" y="283" font-size="9.94" text-anchor="middle" fill="#231f20" stroke="#231f20" stroke-width="0.22" textLength="16.2" lengthAdjust="spacingAndGlyphs" >40:1</text>
<text x="11.5" y="422.8" font-size="8.42" text-anchor="start" fill="#231f20" stroke="#231f20" stroke-width="0.22" textLength="37.5" lengthAdjust="spacingAndGlyphs" >Strain: NSG</text>
<text x="37.5" y="448.2" font-size="8.42" text-anchor="start" fill="#231f20" stroke="#231f20" stroke-width="0.22" textLength="20.2" lengthAdjust="spacingAndGlyphs" >Week:</text>
<text x="71.75" y="448.3" font-size="8.21" text-anchor="middle" fill="#231f20" stroke="#231f20" stroke-width="0.22" >1</text>
<text x="81.75" y="448.3" font-size="8.21" text-anchor="middle" fill="#231f20" stroke="#231f20" stroke-width="0.22" >2</text>
<text x="91.75" y="448.3" font-size="8.21" text-anchor="middle" fill="#231f20" stroke="#231f20" stroke-width="0.22" >3</text>
<text x="101.75" y="448.3" font-size="8.21" text-anchor="middle" fill="#231f20" stroke="#231f20" stroke-width="0.22" >4</text>
<text x="111.75" y="448.3" font-size="8.21" text-anchor="middle" fill="#231f20" stroke="#231f20" stroke-width="0.22" >5</text>
<text x="121.75" y="448.3" font-size="8.21" text-anchor="middle" fill="#231f20" stroke="#231f20" stroke-width="0.22" >6</text>
<text x="131.75" y="448.3" font-size="8.21" text-anchor="middle" fill="#231f20" stroke="#231f20" stroke-width="0.22" >7</text>
<text x="141.75" y="448.3" font-size="8.21" text-anchor="middle" fill="#231f20" stroke="#231f20" stroke-width="0.22" >8</text>
<text x="151.75" y="448.3" font-size="8.21" text-anchor="middle" fill="#231f20" stroke="#231f20" stroke-width="0.22" >9</text>
<text x="161.75" y="448.3" font-size="8.21" text-anchor="middle" fill="#231f20" stroke="#231f20" stroke-width="0.22" >10</text>
<line x1="71.75" y1="455.6" x2="173.75" y2="455.6" stroke="#141213" stroke-width="1.4" />
<circle cx="71.9" cy="455.6" r="2.4" fill="#231f20"/><circle cx="173.75" cy="455.6" r="2.4" fill="#231f20"/>
<line x1="111.3" y1="456.6" x2="111.3" y2="470.68" stroke="#141213" stroke-width="1.6" stroke-dasharray="2.9,1.4"/>
<path d="M111.3,475.6 L108.2,467.40000000000003 L111.3,470.27000000000004 L114.39999999999999,467.40000000000003 Z" fill="#231f20"/>
<line x1="133.4" y1="456.6" x2="133.4" y2="470.68" stroke="#141213" stroke-width="1.6" stroke-dasharray="2.9,1.4"/>
<path d="M133.4,475.6 L130.3,467.40000000000003 L133.4,470.27000000000004 L136.5,467.40000000000003 Z" fill="#231f20"/>
<line x1="158.3" y1="456.6" x2="158.3" y2="470.68" stroke="#141213" stroke-width="1.6" stroke-dasharray="2.9,1.4"/>
<path d="M158.3,475.6 L155.20000000000002,467.40000000000003 L158.3,470.27000000000004 L161.4,467.40000000000003 Z" fill="#231f20"/>
<circle cx="72.1" cy="426.9" r="2.5" fill="#231f20"/>
<line x1="72.1" y1="426.9" x2="72.1" y2="434.85999999999996" stroke="#555" stroke-width="1.0" />
<path d="M72.1,436.9 L70.6,433.5 L72.1,434.69 L73.6,433.5 Z" fill="#231f20"/>
<line x1="76.5" y1="427.1" x2="76.5" y2="433.65999999999997" stroke="#141213" stroke-width="0.9" />
<path d="M76.5,436.9 L74.3,431.5 L76.5,433.39 L78.7,431.5 Z" fill="#231f20"/>
<circle cx="14.9" cy="494.6" r="2.5" fill="#231f20"/>
<line x1="14.9" y1="494.6" x2="14.9" y2="502.71" stroke="#555" stroke-width="1.0" />
<path d="M14.9,504.75 L13.4,501.35 L14.9,502.54 L16.4,501.35 Z" fill="#231f20"/>
<text x="20.1" y="501.6" font-size="7.99" text-anchor="start" fill="#231f20" stroke="#231f20" stroke-width="0.22" textLength="93.4" lengthAdjust="spacingAndGlyphs" >:- 2C11 Hybridoma Cells 1x 10</text>
<text x="114.2" y="498.5" font-size="5.18" text-anchor="start" fill="#231f20" stroke="#231f20" stroke-width="0.22" textLength="1.9" lengthAdjust="spacingAndGlyphs" >6</text>
<text x="118.5" y="501.6" font-size="7.99" text-anchor="start" fill="#231f20" stroke="#231f20" stroke-width="0.22" textLength="16" lengthAdjust="spacingAndGlyphs" >by i.v</text>
<line x1="14.9" y1="522.0" x2="14.9" y2="529.3" stroke="#141213" stroke-width="1.1" />
<path d="M14.9,532.9 L12.3,526.9 L14.9,529.0 L17.5,526.9 Z" fill="#231f20"/>
<text x="19.9" y="529.4" font-size="7.99" text-anchor="start" fill="#231f20" stroke="#231f20" stroke-width="0.22" textLength="37" lengthAdjust="spacingAndGlyphs" >:- BAR hCD8</text>
<text x="57.3" y="526.3" font-size="5.18" text-anchor="start" fill="#231f20" stroke="#231f20" stroke-width="0.22" textLength="2.3" lengthAdjust="spacingAndGlyphs" >+</text>
<text x="60.8" y="529.4" font-size="7.99" text-anchor="start" fill="#231f20" stroke="#231f20" stroke-width="0.22" textLength="38.7" lengthAdjust="spacingAndGlyphs" >T Cells, 1x10</text>
<text x="99.9" y="526.3" font-size="5.18" text-anchor="start" fill="#231f20" stroke="#231f20" stroke-width="0.22" textLength="2" lengthAdjust="spacingAndGlyphs" >6</text>
<text x="101.6" y="529.4" font-size="7.99" text-anchor="start" fill="#231f20" stroke="#231f20" stroke-width="0.22" textLength="13.4" lengthAdjust="spacingAndGlyphs" >, i.v.</text>
<line x1="14.9" y1="548.6" x2="14.9" y2="552.0" stroke="#141213" stroke-width="1.8" />
<line x1="14.9" y1="553.9" x2="14.9" y2="557.3" stroke="#141213" stroke-width="1.8" />
<line x1="14.9" y1="559.8" x2="14.9" y2="563" stroke="#141213" stroke-width="1.8" />
<path d="M14.9,568.75 L11.600000000000001,560.95 L14.9,563.29 L18.2,560.95 Z" fill="#231f20"/>
<text x="19.8" y="561.9" font-size="8.1" text-anchor="start" fill="#231f20" stroke="#231f20" stroke-width="0.22" textLength="56.7" lengthAdjust="spacingAndGlyphs" >:- Blood collection</text>
<line x1="225.4" y1="416.1" x2="225.4" y2="540.8" stroke="#141213" stroke-width="1.3" />
<line x1="224.8" y1="540.2" x2="381.1" y2="540.2" stroke="#141213" stroke-width="1.3" />
<line x1="222.20000000000002" y1="540.2" x2="225.4" y2="540.2" stroke="#141213" stroke-width="1.0" />
<text x="219.1" y="542.8000000000001" font-size="8.21" text-anchor="end" fill="#231f20" stroke="#231f20" stroke-width="0.22" textLength="3.9" lengthAdjust="spacingAndGlyphs" >0</text>
<line x1="222.20000000000002" y1="509.92500000000007" x2="225.4" y2="509.92500000000007" stroke="#141213" stroke-width="1.0" />
<text x="219.1" y="512.5250000000001" font-size="8.21" text-anchor="end" fill="#231f20" stroke="#231f20" stroke-width="0.22" textLength="7.7" lengthAdjust="spacingAndGlyphs" >25</text>
<line x1="222.20000000000002" y1="479.65000000000003" x2="225.4" y2="479.65000000000003" stroke="#141213" stroke-width="1.0" />
<text x="219.1" y="482.25000000000006" font-size="8.21" text-anchor="end" fill="#231f20" stroke="#231f20" stroke-width="0.22" textLength="7.7" lengthAdjust="spacingAndGlyphs" >50</text>
<line x1="222.20000000000002" y1="449.375" x2="225.4" y2="449.375" stroke="#141213" stroke-width="1.0" />
<text x="219.1" y="451.975" font-size="8.21" text-anchor="end" fill="#231f20" stroke="#231f20" stroke-width="0.22" textLength="7.7" lengthAdjust="spacingAndGlyphs" >75</text>
<line x1="222.20000000000002" y1="419.1" x2="225.4" y2="419.1" stroke="#141213" stroke-width="1.0" />
<text x="219.1" y="421.70000000000005" font-size="8.21" text-anchor="end" fill="#231f20" stroke="#231f20" stroke-width="0.22" textLength="11.4" lengthAdjust="spacingAndGlyphs" >100</text>
<line x1="225.4" y1="540.2" x2="225.4" y2="542.8000000000001" stroke="#141213" stroke-width="1.0" />
<text x="225.4" y="553.7" font-size="8.42" text-anchor="middle" fill="#231f20" stroke="#231f20" stroke-width="0.22" textLength="7.9" lengthAdjust="spacingAndGlyphs" >25</text>
<line x1="247.3857142857143" y1="540.2" x2="247.3857142857143" y2="542.8000000000001" stroke="#141213" stroke-width="1.0" />
<text x="247.3857142857143" y="553.7" font-size="8.42" text-anchor="middle" fill="#231f20" stroke="#231f20" stroke-width="0.22" textLength="7.9" lengthAdjust="spacingAndGlyphs" >30</text>
<line x1="269.37142857142857" y1="540.2" x2="269.37142857142857" y2="542.8000000000001" stroke="#141213" stroke-width="1.0" />
<text x="269.37142857142857" y="553.7" font-size="8.42" text-anchor="middle" fill="#231f20" stroke="#231f20" stroke-width="0.22" textLength="7.9" lengthAdjust="spacingAndGlyphs" >35</text>
<line x1="291.3571428571429" y1="540.2" x2="291.3571428571429" y2="542.8000000000001" stroke="#141213" stroke-width="1.0" />
<text x="291.3571428571429" y="553.7" font-size="8.42" text-anchor="middle" fill="#231f20" stroke="#231f20" stroke-width="0.22" textLength="7.9" lengthAdjust="spacingAndGlyphs" >40</text>
<line x1="313.34285714285716" y1="540.2" x2="313.34285714285716" y2="542.8000000000001" stroke="#141213" stroke-width="1.0" />
<text x="313.34285714285716" y="553.7" font-size="8.42" text-anchor="middle" fill="#231f20" stroke="#231f20" stroke-width="0.22" textLength="7.9" lengthAdjust="spacingAndGlyphs" >45</text>
<line x1="335.3285714285714" y1="540.2" x2="335.3285714285714" y2="542.8000000000001" stroke="#141213" stroke-width="1.0" />
<text x="335.3285714285714" y="553.7" font-size="8.42" text-anchor="middle" fill="#231f20" stroke="#231f20" stroke-width="0.22" textLength="7.9" lengthAdjust="spacingAndGlyphs" >50</text>
<line x1="357.3142857142857" y1="540.2" x2="357.3142857142857" y2="542.8000000000001" stroke="#141213" stroke-width="1.0" />
<text x="357.3142857142857" y="553.7" font-size="8.42" text-anchor="middle" fill="#231f20" stroke="#231f20" stroke-width="0.22" textLength="7.9" lengthAdjust="spacingAndGlyphs" >55</text>
<line x1="379.3" y1="540.2" x2="379.3" y2="542.8000000000001" stroke="#141213" stroke-width="1.0" />
<text x="379.3" y="553.7" font-size="8.42" text-anchor="middle" fill="#231f20" stroke="#231f20" stroke-width="0.22" textLength="7.9" lengthAdjust="spacingAndGlyphs" >60</text>
<text x="303.9" y="566.8" font-size="9.94" text-anchor="middle" fill="#231f20" stroke="#231f20" stroke-width="0.22" textLength="19.8" lengthAdjust="spacingAndGlyphs" >Days</text>
<text transform="translate(199.3,478.3) rotate(-90)" font-size="8.8" text-anchor="middle" fill="#231f20" stroke="#231f20" stroke-width="0.22" textLength="62.8" lengthAdjust="spacingAndGlyphs">Percent survival</text>
<polyline points="225.4,419.1 357.3142857142857,419.1 357.3142857142857,439.32370000000003 379.3,439.32370000000003 379.3,436.65950000000004" fill="none" stroke="#62b346" stroke-width="1.4"/>
<polyline points="278.1657142857143,420.8 278.1657142857143,443.32000000000005 335.3285714285714,443.32000000000005 335.3285714285714,491.76000000000005 374.683,491.76000000000005 374.683,515.98 379.3,515.98 379.3,540.2" fill="none" stroke="#522a78" stroke-width="1.6" stroke-dasharray="3,2.4"/>
<polyline points="262.7757142857143,420.8 262.7757142857143,467.54 363.91,467.54 363.91,491.76000000000005 376.8815714285714,491.76000000000005 376.8815714285714,515.98 379.3,515.98 379.3,540.2" fill="none" stroke="#d41f94" stroke-width="1.5" stroke-dasharray="1.2,1.0"/>
<line x1="401.4" y1="427.7" x2="413.6" y2="427.7" stroke="#62b346" stroke-width="1.3" />
<line x1="407.5" y1="425.3" x2="407.5" y2="427.7" stroke="#62b346" stroke-width="1.0" />
<text x="416.9" y="430.2" font-size="8.42" text-anchor="start" fill="#231f20" stroke="#231f20" stroke-width="0.22" textLength="22.5" lengthAdjust="spacingAndGlyphs" >C2 BAR</text>
<line x1="401.4" y1="444.7" x2="413.6" y2="444.7" stroke="#522a78" stroke-width="1.5" stroke-dasharray="2.6,1.6"/>
<line x1="407.5" y1="442.3" x2="407.5" y2="444.7" stroke="#522a78" stroke-width="1.0" />
<text x="416.9" y="446.9" font-size="8.42" text-anchor="start" fill="#231f20" stroke="#231f20" stroke-width="0.22" textLength="27.8" lengthAdjust="spacingAndGlyphs" >OVA BAR</text>
<line x1="401.4" y1="461.5" x2="413.6" y2="461.5" stroke="#d41f94" stroke-width="1.3" stroke-dasharray="1.1,0.9"/>
<path d="M405.3,462.6 L407.5,459.1 L409.7,462.6" fill="none" stroke="#d41f94" stroke-width="0.9"/>
<text x="416.9" y="464.1" font-size="8.42" text-anchor="start" fill="#231f20" stroke="#231f20" stroke-width="0.22" textLength="11.5" lengthAdjust="spacingAndGlyphs" >PBS</text>
<rect x="0" y="0" width="520" height="1.1" fill="#1a1a1a"/>
<rect x="0" y="0" width="1.25" height="576" fill="#1e1e1e"/>
<rect x="518.75" y="0" width="1.25" height="576" fill="#111"/>
<rect x="0" y="573.9" width="520" height="2.1" fill="#1a1a1a"/>
</svg>
</body></html>
